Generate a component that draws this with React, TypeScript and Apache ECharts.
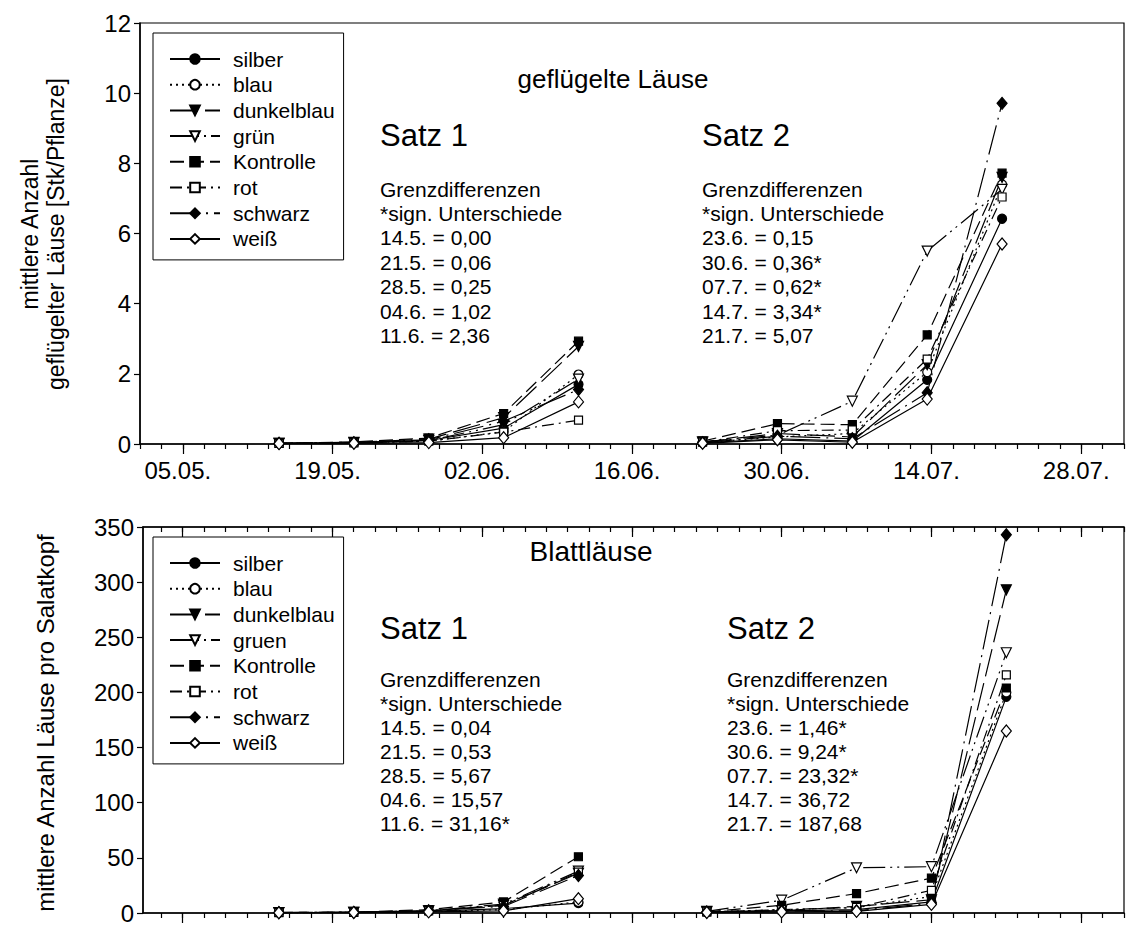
import React, { useEffect, useRef } from "react";
import * as echarts from "echarts";

const FONT = "'Liberation Sans', Arial, sans-serif";

const namesTop = ["silber", "blau", "dunkelblau", "grün", "Kontrolle", "rot", "schwarz", "weiß"];
const namesBottom = ["silber", "blau", "dunkelblau", "gruen", "Kontrolle", "rot", "schwarz", "weiß"];

// x values: days after 01.05.
const satz1Days = [13, 20, 27, 34, 41];
const satz2DaysTop = [52.6, 59.6, 66.6, 73.6, 80.6];
const satz2DaysBottom = [53, 60, 67, 74, 81];

// geflügelte Läuse, Satz 1 (rows in order of namesTop)
const top1 = [
  [0.02, 0.03, 0.1, 0.45, 1.7],
  [0.02, 0.04, 0.08, 0.35, 1.98],
  [0.02, 0.05, 0.14, 0.75, 2.78],
  [0.02, 0.03, 0.1, 0.55, 1.85],
  [0.02, 0.06, 0.17, 0.87, 2.93],
  [0.02, 0.03, 0.08, 0.34, 0.68],
  [0.02, 0.04, 0.12, 0.65, 1.55],
  [0.01, 0.02, 0.04, 0.18, 1.2],
];
// geflügelte Läuse, Satz 2
const top2 = [
  [0.03, 0.15, 0.08, 1.83, 6.42],
  [0.04, 0.2, 0.3, 2.05, 7.4],
  [0.05, 0.3, 0.2, 2.26, 7.6],
  [0.06, 0.25, 1.22, 5.5, 7.26],
  [0.08, 0.58, 0.55, 3.11, 7.72],
  [0.05, 0.38, 0.4, 2.42, 7.04],
  [0.04, 0.22, 0.15, 1.46, 9.71],
  [0.02, 0.12, 0.05, 1.28, 5.7],
];
// Blattläuse, Satz 1
const bottom1 = [
  [0.3, 0.5, 1.5, 4, 9],
  [0.3, 0.6, 1.5, 3, 10],
  [0.4, 0.7, 2, 7, 36],
  [0.3, 0.6, 2, 8, 38],
  [0.5, 0.8, 3, 10, 51],
  [0.3, 0.5, 1.8, 7, 37],
  [0.4, 0.6, 2, 6, 34],
  [0.2, 0.4, 1, 2, 13],
];
// Blattläuse, Satz 2
const bottom2 = [
  [1, 2, 3, 10, 196],
  [1, 3, 5, 15, 200],
  [1, 2, 6, 12, 293],
  [1.5, 11.6, 41, 42, 236],
  [1, 7, 17.6, 31.6, 204],
  [1, 3, 5, 20.6, 216],
  [1, 2, 2, 9, 343],
  [0.5, 1, 1.5, 7.8, 165],
];

const minorDays = Array.from({ length: 47 }, (_, i) => i * 2);
const majorDays = [4, 18, 32, 46, 60, 74, 88];

const topSatz1Text = ["Grenzdifferenzen", "*sign. Unterschiede", "14.5. = 0,00", "21.5. = 0,06", "28.5. = 0,25", "04.6. = 1,02", "11.6. = 2,36"];
const topSatz2Text = ["Grenzdifferenzen", "*sign. Unterschiede", "23.6. = 0,15", "30.6. = 0,36*", "07.7. = 0,62*", "14.7. = 3,34*", "21.7. = 5,07"];
const botSatz1Text = ["Grenzdifferenzen", "*sign. Unterschiede", "14.5. = 0,04", "21.5. = 0,53", "28.5. = 5,67", "04.6. = 15,57", "11.6. = 31,16*"];
const botSatz2Text = ["Grenzdifferenzen", "*sign. Unterschiede", "23.6. = 1,46*", "30.6. = 9,24*", "07.7. = 23,32*", "14.7. = 36,72", "21.7. = 187,68"];

const lineTypes: any[] = ["solid", [2, 4], [28, 7], [22, 5, 2, 5, 2, 5], [14, 6], [12, 5, 2, 5], [30, 6, 2, 6], "solid"];
const symbols = ["circle", "circle", "triangle", "triangle", "rect", "rect", "diamond", "diamond"];
const filled = [true, false, true, false, true, false, true, false];
const rotations = [0, 0, 180, 180, 0, 0, 0, 0];
const symSizes = [9, 9, 10, 10, 8, 8, [10, 12], [10, 12]];

function dayLabel(d: number) {
  const dt = new Date(2000, 4, 1 + Math.round(d));
  const p = (n: number) => (n < 10 ? "0" : "") + n;
  return p(dt.getDate()) + "." + p(dt.getMonth() + 1) + ".";
}

function makeSeries(names: string[], rows: number[][], days: number[], xi: number, yi: number) {
  return names.map((name, i) => ({
    type: "line",
    name,
    xAxisIndex: xi,
    yAxisIndex: yi,
    data: days.map((d, j) => [d, rows[i][j]]),
    symbol: symbols[i],
    symbolRotate: rotations[i],
    symbolSize: symSizes[i],
    showAllSymbol: true,
    lineStyle: { color: "#000", width: 1.2, type: lineTypes[i] },
    itemStyle: { color: filled[i] ? "#000" : "#fff", borderColor: "#000", borderWidth: 1.2 },
    emphasis: { disabled: true },
    z: 3,
  }));
}

function xAxesFor(gridIndex: number, min: number, withLabels: boolean, position: string, inside: boolean) {
  const common = {
    gridIndex,
    type: "value",
    min,
    max: 92,
    position,
    splitLine: { show: false },
  };
  return [
    {
      ...common,
      axisLine: { show: true, onZero: false, lineStyle: { color: "#000", width: 1.5 } },
      axisTick: { show: true, inside, length: 5, customValues: minorDays, lineStyle: { color: "#000", width: 1.2 } },
      axisLabel: { show: false },
    },
    {
      ...common,
      axisLine: { show: false, onZero: false },
      axisTick: { show: true, inside, length: 10, customValues: majorDays, lineStyle: { color: "#000", width: 1.2 } },
      axisLabel: withLabels
        ? {
            show: true,
            customValues: majorDays,
            formatter: (v: number) => dayLabel(v),
            fontSize: 24,
            fontFamily: FONT,
            color: "#000",
            margin: 14,
            padding: [0, 10, 0, 0],
          }
        : { show: false },
    },
  ];
}

function textLines(lines: string[], x: number, y0: number, step: number, size: number) {
  return lines.map((t, i) => ({
    type: "text",
    x,
    y: y0 + i * step,
    silent: true,
    style: { text: t, font: `${size}px ${FONT}`, fill: "#000", textAlign: "left", textVerticalAlign: "middle" },
  }));
}

function makeLegend(names: string[], top: number) {
  return {
    orient: "vertical",
    left: 153,
    top,
    data: names,
    selectedMode: false,
    borderColor: "#000",
    borderWidth: 1,
    borderRadius: 0,
    padding: [15, 9, 10, 16],
    itemGap: 3.7,
    itemWidth: 50,
    itemHeight: 12,
    textStyle: { fontSize: 21, fontFamily: FONT, color: "#000", padding: [0, 0, 0, 8], lineHeight: 22 },
  };
}

export default function App() {
  const ref = useRef<HTMLDivElement>(null);
  useEffect(() => {
    document.body.style.margin = "0";
    if (!ref.current) return;
    const chart = echarts.init(ref.current, undefined, { renderer: "svg" });
    const yCommon = {
      type: "value",
      splitLine: { show: false },
      axisLine: { show: true, onZero: false, lineStyle: { color: "#000", width: 1.5 } },
      axisTick: { show: true, length: 6, lineStyle: { color: "#000", width: 1.2 } },
      axisLabel: { fontSize: 24, fontFamily: FONT, color: "#000", margin: 9 },
    };
    const option: any = {
      animation: false,
      backgroundColor: "#fff",
      grid: [
        { left: 140, top: 23, width: 984, height: 421, show: true, borderColor: "#000", borderWidth: 1.2 },
        { left: 143, top: 527, width: 981, height: 391, show: true, borderColor: "#000", borderWidth: 1.2 },
      ],
      xAxis: [
        ...xAxesFor(0, 0, true, "bottom", false),
        ...xAxesFor(1, 0.3, false, "bottom", false),
        ...xAxesFor(1, 0.3, false, "top", true),
      ],
      yAxis: [
        { ...yCommon, gridIndex: 0, min: 0, max: 12, interval: 2 },
        { ...yCommon, gridIndex: 1, min: 0, max: 350, interval: 50 },
      ],
      legend: [makeLegend(namesTop, 33), makeLegend(namesBottom, 537)],
      series: [
        ...makeSeries(namesTop, top1, satz1Days, 0, 0),
        ...makeSeries(namesTop, top2, satz2DaysTop, 0, 0),
        ...makeSeries(namesBottom, bottom1, satz1Days, 2, 1),
        ...makeSeries(namesBottom, bottom2, satz2DaysBottom, 2, 1),
      ],
      graphic: [
        {
          type: "text", x: 613, y: 79, silent: true,
          style: { text: "geflügelte Läuse", font: `26px ${FONT}`, fill: "#000", textAlign: "center", textVerticalAlign: "middle" },
        },
        ...textLines(["Satz 1"], 380, 135, 0, 31),
        ...textLines(["Satz 2"], 702, 135, 0, 31),
        ...textLines(topSatz1Text, 380, 189, 24.4, 21),
        ...textLines(topSatz2Text, 702, 189, 24.4, 21),
        {
          type: "text", x: 591, y: 551, silent: true,
          style: { text: "Blattläuse", font: `28px ${FONT}`, fill: "#000", textAlign: "center", textVerticalAlign: "middle" },
        },
        ...textLines(["Satz 1"], 380, 628, 0, 31),
        ...textLines(["Satz 2"], 727, 628, 0, 31),
        ...textLines(botSatz1Text, 380, 679, 24, 21),
        ...textLines(botSatz2Text, 727, 679, 24, 21),
        {
          type: "text", x: 30, y: 234, rotation: Math.PI / 2, silent: true,
          style: { text: "mittlere Anzahl", font: `23px ${FONT}`, fill: "#000", textAlign: "center", textVerticalAlign: "middle" },
        },
        {
          type: "text", x: 56, y: 234, rotation: Math.PI / 2, silent: true,
          style: { text: "geflügelter Läuse [Stk/Pflanze]", font: `23px ${FONT}`, fill: "#000", textAlign: "center", textVerticalAlign: "middle" },
        },
        {
          type: "text", x: 45, y: 723, rotation: Math.PI / 2, silent: true,
          style: { text: "mittlere Anzahl Läuse pro Salatkopf", font: `24px ${FONT}`, fill: "#000", textAlign: "center", textVerticalAlign: "middle" },
        },
      ],
    };
    chart.setOption(option);
    return () => chart.dispose();
  }, []);
  return <div ref={ref} style={{ width: 1126, height: 925, overflow: "hidden" }} />;
}
